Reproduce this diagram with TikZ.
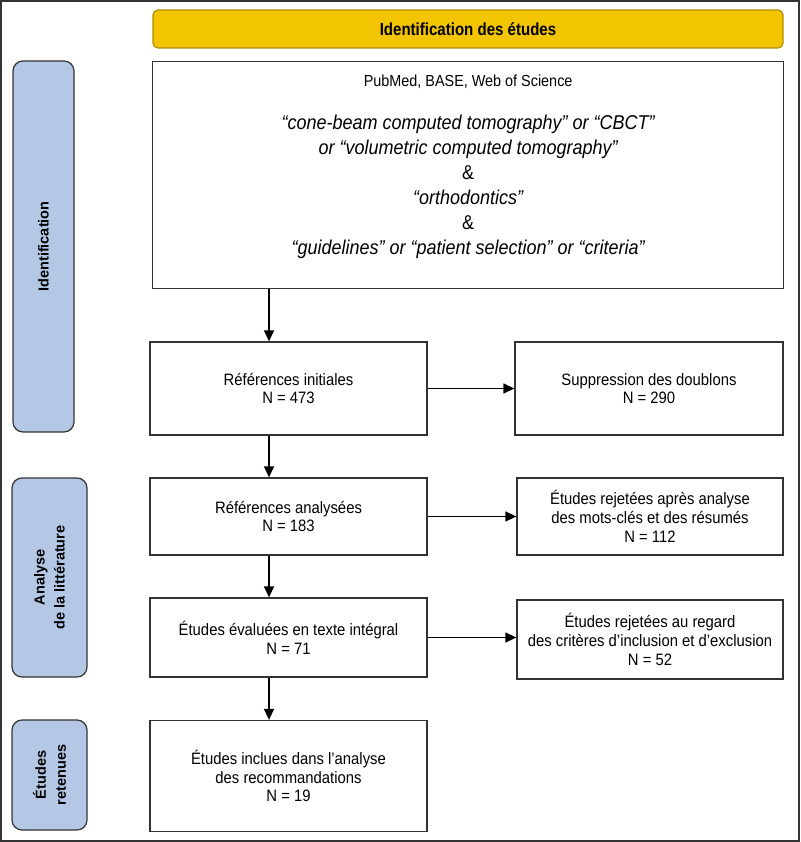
\documentclass[tikz,border=0pt]{standalone}
\usepackage{fontspec}
\setmainfont{Liberation Sans}
\newfontfamily\boxfont[FakeStretch=0.9]{Liberation Sans}
\newfontfamily\hdrfont[FakeStretch=0.86]{Liberation Sans}
\usetikzlibrary{arrows.meta}
\definecolor{hdrgold}{HTML}{F2C500}
\definecolor{hdrgolddark}{HTML}{B08E00}
\definecolor{barblue}{HTML}{B4C8E6}
\definecolor{edgegray}{HTML}{333333}
\begin{document}
\begin{tikzpicture}[x=1pt,y=-1pt,
  flowbox/.style={draw=edgegray, line width=1.3pt, fill=white, inner sep=0pt, align=center,
    font=\boxfont\fontsize{16.5}{18.8}\selectfont},
  sidebar/.style={draw=edgegray, line width=1.2pt, fill=barblue, rounded corners=10pt, rotate=90,
    inner sep=0pt, align=center, font=\bfseries\fontsize{14.5}{20}\selectfont},
  hdrbox/.style={draw=hdrgolddark, line width=1.2pt, fill=hdrgold, rounded corners=5pt, inner sep=0pt,
    font=\hdrfont\bfseries\fontsize{17.5}{20}\selectfont},
  arr/.style={draw=black, line width=1.3pt, -{Triangle[length=11pt,width=10pt]}}]
\useasboundingbox (0,0) rectangle (800,842);
\draw[edgegray, line width=1.5pt] (1,1) rectangle (799,841);

% header
\node[hdrbox, minimum width=630pt, minimum height=38pt] (hdr) at (468,29) {Identification des études};

% side bars
\node[sidebar, minimum width=371pt, minimum height=61pt] (bar1) at (43.5,246.5) {Identification};
\node[sidebar, minimum width=199pt, minimum height=75pt] (bar2) at (49.5,577.5) {Analyse\\de la littérature};
\node[sidebar, minimum width=110pt, minimum height=75pt] (bar3) at (49.5,775) {Études\\retenues};

% search box
\node[flowbox, anchor=north west] (srch) at (152,61) {%
\begin{minipage}[t][227pt][t]{631pt}\centering
\vspace*{13pt}
{\fontsize{16}{18}\selectfont PubMed, BASE, Web of Science\par}
\vspace{18pt}
{\itshape\fontsize{20}{25}\selectfont “cone-beam computed tomography” or “CBCT”\\
or “volumetric computed tomography”\\
{\upshape\&}\\
“orthodontics”\\
{\upshape\&}\\
“guidelines” or “patient selection” or “criteria”\par}
\end{minipage}};

% flow boxes
\node[flowbox, minimum width=277pt, minimum height=93pt] (ri) at (288.5,388.5) {Références initiales\\N = 473};
\node[flowbox, minimum width=268pt, minimum height=93pt] (sd) at (649,388.5) {Suppression des doublons\\N = 290};
\node[flowbox, minimum width=277pt, minimum height=77pt] (ra) at (288.5,516.5) {Références analysées\\N = 183};
\node[flowbox, minimum width=266pt, minimum height=77pt] (rj1) at (650,516.5) {Études rejetées après analyse\\des mots-clés et des résumés\\N = 112};
\node[flowbox, minimum width=277pt, minimum height=79pt] (ev) at (288.5,637.5) {Études évaluées en texte intégral\\N = 71};
\node[flowbox, minimum width=266pt, minimum height=79pt] (rj2) at (650,639.5) {Études rejetées au regard\\des critères d’inclusion et d’exclusion\\N = 52};
\node[flowbox, minimum width=277pt, minimum height=111pt] (inc) at (288.5,776) {Études inclues dans l’analyse\\des recommandations\\N = 19};

% connectors
\coordinate (ax) at (269,0);
\draw[arr] (ax |- srch.south) -- (ax |- ri.north);
\draw[arr] (ax |- ri.south) -- (ax |- ra.north);
\draw[arr] (ax |- ra.south) -- (ax |- ev.north);
\draw[arr] (ax |- ev.south) -- (ax |- inc.north);
\draw[arr] (ri.east) -- (sd.west);
\draw[arr] (ra.east) -- (rj1.west);
\draw[arr] (ev.east) -- (ev.east -| rj2.west);
\end{tikzpicture}
\end{document}
